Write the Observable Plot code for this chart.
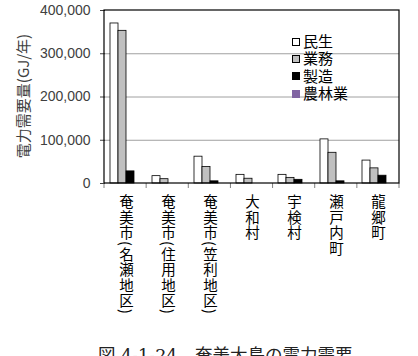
<!DOCTYPE html>
<html><head><meta charset="utf-8">
<script src="https://cdn.jsdelivr.net/npm/d3@7"></script>
<script src="https://cdn.jsdelivr.net/npm/@observablehq/plot@0.6"></script>
<style>
body{margin:0;background:#fff;width:418px;height:356px;overflow:hidden;position:relative;font-family:"Noto Sans CJK JP",sans-serif}
#chart{position:absolute;left:0;top:0}
#legend{position:absolute;left:292px;top:33px;font-size:15px;color:#000;font-family:"Liberation Sans","Noto Sans CJK JP",sans-serif}
.item{display:flex;align-items:center;height:17.3px;line-height:17px}
.item span{display:inline-block;height:17px;line-height:17px}
.sw{width:8px;height:8px;margin-right:3px;box-sizing:border-box;flex:none}
#ytitle{position:absolute;left:22px;top:96px;transform:translate(-50%,-50%) rotate(-90deg);white-space:nowrap;font-size:15px;color:#404040}
#caption{position:absolute;left:98px;top:345px;font-size:17.5px;line-height:20px;white-space:nowrap;color:#222;font-family:"DejaVu Serif","Noto Sans CJK JP",serif}
</style></head>
<body>
<div id="chart"></div>
<div id="legend"></div>
<div id="ytitle"></div>
<div id="caption"></div>
<script>
const categories = ["奄美市(名瀬地区)","奄美市(住用地区)","奄美市(笠利地区)","大和村","宇検村","瀬戸内町","龍郷町"];
const series = ["民生","業務","製造","農林業"];
const colors = ["#ffffff","#c0c0c0","#000000","#8064a2"];
const minsei = [370000,17000,62000,20000,20000,102000,53000];
const gyomu  = [353000,10000,38000,11000,13000,71000,35000];
const seizo  = [28000,0,5000,0,8500,5000,18000];
const norin  = [0,0,0,0,0,0,0];
const yTicks = [0,100000,200000,300000,400000];
const yTitle = "電力需要量(GJ/年)";
const caption = "図 4-1-24　奄美大島の電力需要";

const values = [minsei, gyomu, seizo, norin];
const rows = categories.flatMap((c,i) => series.map((s,j) => ({category:c, series:s, value:values[j][i]})));

const plot = Plot.plot({
  width: 418, height: 345,
  marginTop: 10, marginLeft: 104, marginRight: 19, marginBottom: 162,
  style: {fontFamily: "'Liberation Sans', Arial, sans-serif", fontSize: "14px", color: "#404040", background: "transparent"},
  fx: {domain: categories, padding: 0, axis: null, label: null},
  x: {domain: series, paddingInner: 0, paddingOuter: 0.625, axis: null, label: null},
  y: {domain: [0,400000], ticks: yTicks, tickFormat: d3.format(","), tickSize: 5, tickPadding: 10, label: null},
  color: {domain: series, range: colors},
  marks: [
    Plot.ruleY(yTicks.slice(1,-1), {stroke: "#a0a0a0", strokeWidth: 1}),
    Plot.barY(rows, {fx: "category", x: "series", y: "value", fill: "series", stroke: "#000", strokeWidth: 0.8}),
    Plot.text(categories, {fx: d => d, frameAnchor: "bottom", text: d => d, dy: 11, textAnchor: "start",
      fontSize: 14.5, fill: "#000", fontFamily: "'Noto Sans CJK JP', sans-serif"})
  ]
});
document.getElementById("chart").appendChild(plot);
const svg = d3.select(plot.tagName.toLowerCase() === "svg" ? plot : plot.querySelector("svg"));

// vertical category labels
svg.selectAll('g[aria-label="text"] text')
  .attr("y", null).attr("dy", null)
  .style("writing-mode", "vertical-rl")
  .style("letter-spacing", "1px");

// frame and category boundary ticks, from Plot's scales
const fx = plot.scale("fx");
const ys = plot.scale("y");
const [x0, x1] = fx.range;
const y0 = ys.apply(0), yTop = ys.apply(400000);
const step = (x1 - x0) / categories.length;
const g = svg.append("g");
g.selectAll("line").data(d3.range(categories.length + 1)).join("line")
  .attr("x1", i => x0 + i*step).attr("x2", i => x0 + i*step)
  .attr("y1", y0).attr("y2", y0 + 5).attr("stroke", "#808080");
g.append("rect").attr("x", x0).attr("y", yTop).attr("width", x1 - x0).attr("height", y0 - yTop)
  .attr("fill", "none").attr("stroke", "#000").attr("stroke-width", 1.2);

// legend
const lg = d3.select("#legend");
series.forEach((s,i) => {
  const it = lg.append("div").attr("class","item");
  it.append("div").attr("class","sw").style("background", colors[i])
    .style("border", i < 2 ? "1px solid #000" : "none");
  it.append("span").text(s);
});
document.getElementById("ytitle").textContent = yTitle;
document.getElementById("caption").textContent = caption;
</script>
</body></html>
